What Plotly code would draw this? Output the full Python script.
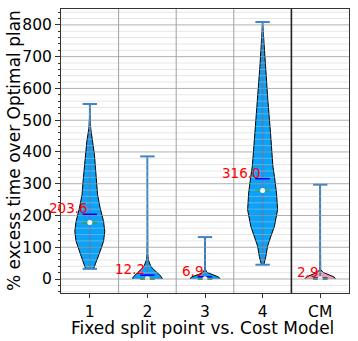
import plotly.graph_objects as go

# categories
labels = ["1", "2", "3", "4", "CM"]
positions = [1, 2, 3, 4, 5]

# summary stats (% excess time)
means = [203.6, 12.2, 6.9, 316.0, 2.9]
medians = [178, 1, 0.5, 279, 0.5]
mins = [32, 0, 0, 45, 0]
maxs = [551, 386, 132, 809, 297]

# density profiles (relative width, 1 = widest)
v1_levels = [32, 35, 56, 87, 119, 150, 181, 224, 265, 307, 349, 391, 433, 454, 475, 517, 551]
v1_density = [0.25, 0.3, 0.46, 0.69, 0.92, 1.0, 0.92, 0.69, 0.52, 0.45, 0.38, 0.31, 0.2, 0.13, 0.06, 0.01, 0.0]

v2_levels = [0, 2, 8, 14, 21, 28, 35, 43, 51, 61, 80, 120, 386]
v2_density = [1.0, 1.0, 0.92, 0.79, 0.62, 0.45, 0.31, 0.2, 0.12, 0.06, 0.02, 0.005, 0.0]

v3_levels = [0, 2, 6.6, 14, 21, 30, 45, 132]
v3_density = [1.0, 0.98, 0.9, 0.45, 0.12, 0.03, 0.01, 0.0]

v4_levels = [45, 51, 71, 103, 134, 166, 218, 271, 323, 354, 407, 459, 564, 669, 774, 809]
v4_density = [0.08, 0.12, 0.22, 0.33, 0.55, 0.79, 1.0, 0.93, 0.79, 0.69, 0.6, 0.53, 0.35, 0.18, 0.05, 0.0]

v5_levels = [0, 1, 6.6, 14, 21, 30, 50, 297]
v5_density = [1.0, 1.0, 0.92, 0.56, 0.19, 0.03, 0.01, 0.0]

profiles = [(v1_levels, v1_density), (v2_levels, v2_density), (v3_levels, v3_density),
            (v4_levels, v4_density), (v5_levels, v5_density)]
fills = ["#0ca2f7", "#0ca2f7", "#0ca2f7", "#0ca2f7", "#ef9db2"]

HALF = 0.26   # max half width of a violin
LINE = 0.125  # half length of mean/median/extrema lines
bar_col = "#3f86c4"

fig = go.Figure()

# violin bodies
for pos, (lv, dens), col in zip(positions, profiles, fills):
    xs = [pos - HALF * d for d in dens] + [pos + HALF * d for d in reversed(dens)]
    ys = list(lv) + list(reversed(lv))
    fig.add_trace(go.Scatter(x=xs, y=ys, mode="lines", fill="toself", fillcolor=col,
                             line=dict(color="black", width=1), hoverinfo="skip"))

# center bars and extrema caps
for pos, lo, hi in zip(positions, mins, maxs):
    fig.add_trace(go.Scatter(x=[pos, pos], y=[lo, hi], mode="lines",
                             line=dict(color=bar_col, width=1.8), hoverinfo="skip"))
    for v in (lo, hi):
        fig.add_trace(go.Scatter(x=[pos - LINE, pos + LINE], y=[v, v], mode="lines",
                                 line=dict(color=bar_col, width=2), hoverinfo="skip"))

# means (blue) and medians (green + white dot)
for pos, m, md in zip(positions, means, medians):
    fig.add_trace(go.Scatter(x=[pos - LINE, pos + LINE], y=[m, m], mode="lines",
                             line=dict(color="#0000ff", width=1.6), hoverinfo="skip"))
    fig.add_trace(go.Scatter(x=[pos - LINE, pos + LINE], y=[md, md], mode="lines",
                             line=dict(color="#2a9a3c", width=2), hoverinfo="skip"))
    fig.add_trace(go.Scatter(x=[pos], y=[md], mode="markers",
                             marker=dict(color="white", size=5), hoverinfo="skip"))
    fig.add_annotation(x=pos, y=m, text=f"{m:.1f}", showarrow=False,
                       xanchor="right", yanchor="bottom", yshift=-4,
                       font=dict(color="red", size=13.5, family="DejaVu Sans"))

# gridlines drawn over the bodies, like matplotlib
for g in range(-40, 860, 20):
    major = g % 100 == 0
    fig.add_hline(y=g, layer="above",
                  line=dict(color="rgba(150,150,150,0.75)" if major else "rgba(200,200,200,0.45)",
                            width=1))

for xv in (1.5, 2.5, 3.5):
    fig.add_vline(x=xv, line=dict(color="#a0a0a0", width=1), layer="above")
fig.add_vline(x=4.5, line=dict(color="#222222", width=1.6), layer="above")

# axis titles
fig.add_annotation(x=0.492, y=0, xref="paper", yref="paper", xanchor="center", yanchor="middle",
                   yshift=-35, showarrow=False, text="Fixed split point vs. Cost Model",
                   font=dict(size=17))
fig.add_annotation(x=0, y=0.5, xref="paper", yref="paper", xanchor="center", yanchor="middle",
                   xshift=-47, textangle=-90, showarrow=False,
                   text="% excess time over Optimal plan", font=dict(size=17))

fig.update_layout(
    width=358, height=341,
    margin=dict(l=61, r=9, t=9, b=48),
    paper_bgcolor="white", plot_bgcolor="white",
    showlegend=False,
    font=dict(family="DejaVu Sans", color="black"),
)
fig.update_xaxes(
    range=[0.5, 5.5], tickvals=positions, ticktext=labels,
    showgrid=False, zeroline=False, automargin=False,
    ticks="outside", ticklen=4, tickcolor="#333", ticklabelstandoff=0,
    showline=True, linecolor="#333", linewidth=1, mirror=True,
    tickfont=dict(size=15.5),
)
fig.update_yaxes(
    range=[-44, 850], tickvals=list(range(0, 900, 100)),
    showgrid=False, zeroline=False, automargin=False,
    ticks="outside", ticklen=5, tickcolor="#333",
    minor=dict(dtick=20, tick0=0, ticks="outside", ticklen=2.5, tickcolor="#333", showgrid=False),
    showline=True, linecolor="#333", linewidth=1, mirror=True,
    tickfont=dict(size=15.5),
)

fig.write_html("out.html", config={"displayModeBar": False},
               post_script="document.body.style.margin='0';")
